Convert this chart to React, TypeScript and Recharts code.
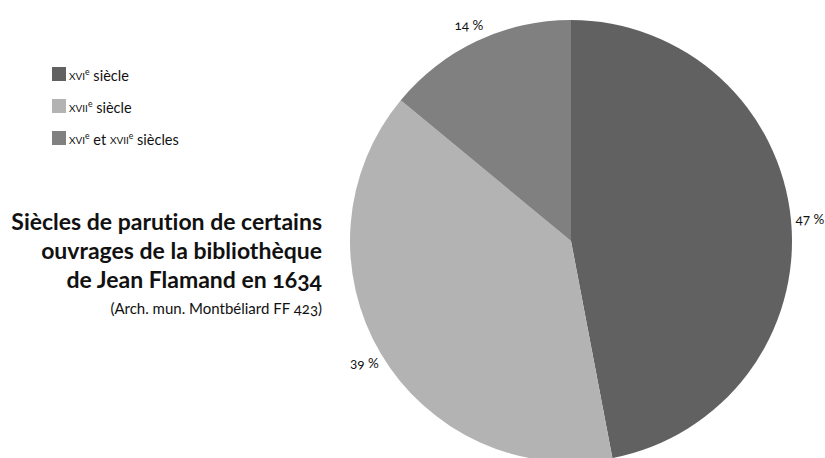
import React from 'react';
import { PieChart, Pie, Cell, Legend } from 'recharts';

const categories = ['xvie siècle', 'xviie siècle', 'xvie et xviie siècles'];
const shares = [47, 39, 14];
const colors = ['#616161', '#b3b3b3', '#808080'];
const titleLines = ['Siècles de parution de certains', 'ouvrages de la bibliothèque', 'de Jean Flamand en 1634'];
const sourceLine = '(Arch. mun. Montbéliard FF 423)';

const data = categories.map((name, i) => ({ name, value: shares[i] }));

const FONT = 'Lato, "Noto Sans", sans-serif';
const RAD = Math.PI / 180;

// roman century numerals go in small caps with a superscript "e"
const Century = ({ text }: { text: string }) => {
  const parts = text.split(/(x[vi]+e)/);
  return (
    <>
      {parts.map((p, i) =>
        /^x[vi]+e$/.test(p) ? (
          <span key={i}>
            <span style={{ fontVariant: 'small-caps' }}>{p.slice(0, -1)}</span>
            <sup style={{ fontSize: '0.6em', verticalAlign: '0.55em' }}>e</sup>
          </span>
        ) : (
          <span key={i}>{p}</span>
        )
      )}
    </>
  );
};

const renderLegend = () => (
  <div style={{ fontFamily: FONT, fontSize: 14.5, color: '#111', fontVariantLigatures: 'none' }}>
    {categories.map((c, i) => (
      <div key={c} style={{ display: 'flex', alignItems: 'center', height: 32 }}>
        <span style={{ width: 14, height: 14, background: colors[i], marginRight: 3, display: 'inline-block' }} />
        <span style={{ lineHeight: '14px' }}>
          <Century text={c} />
        </span>
      </div>
    ))}
  </div>
);

// label sits just outside the rim, pushed out by half its own box
const renderLabel = (props: any) => {
  const { cx, cy, midAngle, outerRadius, value } = props;
  const dx = Math.cos(-midAngle * RAD);
  const dy = Math.sin(-midAngle * RAD);
  const r = outerRadius + 8;
  const x = cx + r * dx + dx * 11;
  const y = cy + r * dy + dy * 10;
  return (
    <text
      x={x}
      y={y}
      textAnchor="middle"
      dominantBaseline="central"
      fontFamily={FONT}
      fontSize={13.5}
      fill="#111"
      style={{ fontVariantNumeric: 'oldstyle-nums' }}
    >
      {`${value} %`}
    </text>
  );
};

export default function App() {
  return (
    <div style={{ position: 'absolute', left: 0, top: 0, width: 825, height: 458, background: '#fff' }}>
      <PieChart width={825} height={458}>
        <Pie
          data={data}
          dataKey="value"
          nameKey="name"
          cx={566}
          cy={236}
          outerRadius={221}
          startAngle={90}
          endAngle={-270}
          stroke="none"
          label={renderLabel}
          labelLine={false}
          isAnimationActive={false}
        >
          {data.map((d, i) => (
            <Cell key={d.name} fill={colors[i]} />
          ))}
        </Pie>
        <Legend content={renderLegend} wrapperStyle={{ left: 52, top: 58, width: 220 }} />
      </PieChart>
      <div
        style={{
          position: 'absolute',
          right: 825 - 322,
          top: 207,
          textAlign: 'right',
          fontFamily: FONT,
          fontWeight: 700,
          fontSize: 23,
          lineHeight: '29px',
          color: '#111',
          whiteSpace: 'nowrap',
          fontVariantNumeric: 'oldstyle-nums',
          fontVariantLigatures: 'none',
        }}
      >
        {titleLines.map((l) => (
          <div key={l}>{l}</div>
        ))}
        <div style={{ fontWeight: 400, fontSize: 15, lineHeight: '20px', marginTop: 4 }}>{sourceLine}</div>
      </div>
    </div>
  );
}
